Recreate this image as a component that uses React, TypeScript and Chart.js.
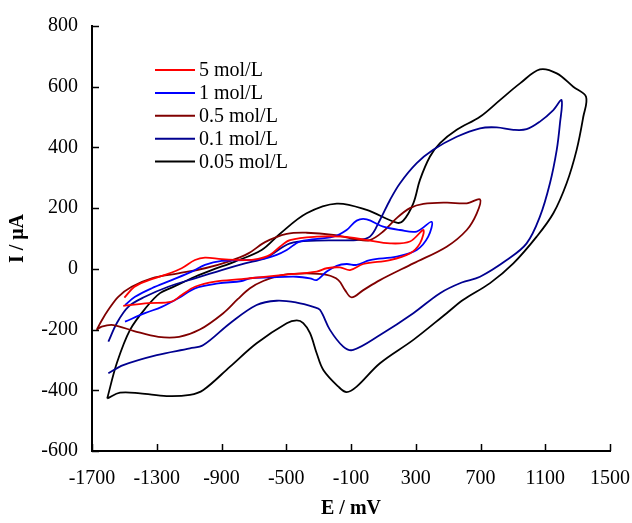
import React, { useEffect, useRef } from "react";
import { Chart, registerables } from "chart.js";

Chart.register(...registerables);

const seriesLabels = ["5 mol/L", "1 mol/L", "0.5 mol/L", "0.1 mol/L", "0.05 mol/L"];
const seriesColors = ["#ff0000", "#0000ff", "#800000", "#000090", "#000000"];

const xTickValues = [-1700, -1300, -900, -500, -100, 300, 700, 1100, 1500];
const yTickValues = [-600, -400, -200, 0, 200, 400, 600, 800];

// 5 mol/L
const e5 = [-1500, -1440, -1373, -1249, -1146, -1064, -1002, -899, -755, -680, -600, -539, -477, -312, -148, -3, 141, 264, 347, 326, 264, 141, -24, -106, -168, -250, -312, -518, -724, -775, -940, -1064, -1146, -1208, -1352, -1507];
const i5 = [-95, -60, -42, -20, 2, 29, 37, 32, 29, 32, 46, 73, 95, 106, 106, 95, 84, 90, 128, 84, 51, 29, 16, -4, 5, 2, -9, -20, -31, -34, -42, -59, -86, -108, -113, -122];

// 1 mol/L
const e1 = [-1496, -1434, -1331, -1208, -1084, -1002, -899, -755, -652, -559, -497, -415, -209, -127, -65, -3, 99, 203, 306, 398, 377, 306, 182, 17, -65, -127, -188, -250, -312, -353, -436, -600, -724, -775, -920, -1064, -1167, -1269, -1373, -1496];
const i1 = [-119, -92, -64, -37, -9, 13, 26, 29, 32, 46, 62, 90, 106, 128, 159, 163, 139, 128, 123, 155, 106, 62, 40, 29, 13, 16, 10, -9, -37, -31, -26, -28, -31, -40, -48, -64, -97, -125, -146, -174];

// 0.5 mol/L
const e05 = [-1671, -1640, -1599, -1538, -1455, -1331, -1167, -1002, -858, -734, -631, -497, -374, -209, -65, 17, 99, 182, 264, 347, 491, 615, 697, 677, 615, 491, 285, 79, -24, -96, -137, -178, -250, -374, -518, -642, -724, -800, -889, -1034, -1162, -1290, -1440, -1568, -1640, -1671];
const i05 = [-201, -170, -135, -92, -59, -31, -15, 2, 24, 51, 88, 115, 119, 112, 97, 95, 123, 167, 200, 214, 218, 216, 229, 183, 128, 73, 18, -37, -70, -94, -70, -37, -20, -15, -20, -40, -64, -100, -146, -200, -224, -224, -205, -185, -190, -201];

// 0.1 mol/L
const e01 = [-1599, -1547, -1476, -1373, -1229, -1064, -899, -755, -631, -477, -312, -65, 17, 79, 141, 203, 306, 408, 553, 697, 800, 903, 985, 1067, 1150, 1201, 1191, 1171, 1129, 1067, 985, 862, 697, 584, 450, 285, 79, -86, -148, -230, -292, -333, -435, -559, -683, -847, -1012, -1095, -1300, -1507, -1599];
const i01 = [-240, -179, -125, -92, -59, -31, -4, 18, 35, 84, 93, 95, 106, 161, 227, 282, 348, 392, 435, 463, 466, 458, 460, 485, 523, 556, 480, 392, 282, 172, 84, 29, -26, -45, -80, -146, -218, -267, -256, -201, -135, -125, -111, -105, -119, -179, -251, -262, -284, -317, -344];

// 0.05 mol/L
const e005 = [-1606, -1547, -1465, -1362, -1280, -1208, -1064, -961, -817, -652, -540, -374, -188, -3, 182, 223, 285, 326, 388, 450, 553, 697, 820, 944, 1067, 1171, 1273, 1352, 1335, 1294, 1232, 1150, 1047, 903, 759, 594, 491, 285, 79, -65, -127, -178, -271, -312, -353, -395, -435, -497, -683, -847, -1012, -1095, -1239, -1403, -1527, -1606];
const i005 = [-427, -311, -201, -125, -80, -62, -26, -4, 24, 62, 115, 183, 215, 194, 152, 159, 216, 293, 370, 414, 458, 501, 556, 611, 657, 644, 600, 567, 501, 392, 282, 183, 106, 18, -47, -102, -146, -234, -311, -388, -406, -388, -333, -278, -212, -179, -170, -179, -245, -322, -399, -415, -419, -410, -408, -427];

const seriesE = [e5, e1, e05, e01, e005];
const seriesI = [i5, i1, i05, i01, i005];

const FONT = "'Liberation Serif', 'Times New Roman', serif";

const inwardTicks = {
  id: "inwardTicks",
  afterDraw(chart: any) {
    const ctx = chart.ctx;
    const xs = chart.scales.x;
    const ys = chart.scales.y;
    const area = chart.chartArea;
    ctx.save();
    ctx.strokeStyle = "#000";
    ctx.lineWidth = 1.5;
    ctx.beginPath();
    for (const v of xTickValues) {
      const px = Math.round(xs.getPixelForValue(v)) + 0.5;
      ctx.moveTo(px, area.bottom);
      ctx.lineTo(px, area.bottom - 7);
    }
    for (const v of yTickValues) {
      const py = Math.round(ys.getPixelForValue(v)) + 0.5;
      ctx.moveTo(area.left, py);
      ctx.lineTo(area.left + 7, py);
    }
    ctx.stroke();
    ctx.restore();
  },
};

const innerLegend = {
  id: "innerLegend",
  afterDraw(chart: any) {
    const ctx = chart.ctx;
    ctx.save();
    ctx.font = `20px ${FONT}`;
    ctx.textBaseline = "middle";
    ctx.textAlign = "left";
    chart.data.datasets.forEach((ds: any, i: number) => {
      const y = 70 + i * 22.9;
      ctx.strokeStyle = ds.borderColor;
      ctx.lineWidth = 2;
      ctx.beginPath();
      ctx.moveTo(155, y);
      ctx.lineTo(195, y);
      ctx.stroke();
      ctx.fillStyle = "#000";
      ctx.fillText(ds.label, 199, y + 1);
    });
    ctx.restore();
  },
};

export default function App() {
  const ref = useRef<HTMLCanvasElement>(null);
  useEffect(() => {
    document.body.style.margin = "0";
    const canvas = ref.current;
    if (!canvas) return;
    Chart.defaults.color = "#000";
    const chart = new Chart(canvas, {
      type: "scatter",
      data: {
        datasets: seriesLabels.map((label, k) => ({
          label,
          data: seriesE[k].map((e, j) => ({ x: e, y: seriesI[k][j] })),
          showLine: true,
          borderColor: seriesColors[k],
          backgroundColor: seriesColors[k],
          borderWidth: 1.8,
          pointRadius: 0,
          tension: 0.35,
          fill: false,
        })),
      },
      options: {
        animation: false,
        responsive: false,
        devicePixelRatio: 1,
        layout: { padding: { left: 6, top: 26, right: 22, bottom: 2 } },
        plugins: { legend: { display: false }, tooltip: { enabled: false } },
        scales: {
          x: {
            type: "linear",
            min: -1700,
            max: 1500,
            afterBuildTicks: (s: any) => {
              s.ticks = xTickValues.map((v) => ({ value: v }));
            },
            afterFit: (s: any) => {
              s.height = 70;
              s.paddingLeft = 0;
              s.paddingRight = 0;
            },
            ticks: { font: { family: FONT, size: 20 }, color: "#000", padding: 16, maxRotation: 0, callback: (v: any) => String(v) },
            grid: { display: false, drawTicks: false },
            border: { display: true, color: "#000", width: 2 },
            title: { display: true, text: "E / mV", font: { family: FONT, size: 20, weight: "bold" }, color: "#000", padding: 0 },
          },
          y: {
            type: "linear",
            min: -600,
            max: 800,
            afterBuildTicks: (s: any) => {
              s.ticks = yTickValues.map((v) => ({ value: v }));
            },
            afterFit: (s: any) => {
              s.width = 86;
              s.paddingTop = 0;
              s.paddingBottom = 0;
            },
            ticks: { font: { family: FONT, size: 20 }, color: "#000", padding: 14, callback: (v: any) => String(v) },
            grid: { display: false, drawTicks: false },
            border: { display: true, color: "#000", width: 2 },
            title: { display: true, text: "I / μA", font: { family: FONT, size: 20, weight: "bold" }, color: "#000", padding: 0 },
          },
        },
      },
      plugins: [inwardTicks, innerLegend],
    } as any);
    return () => chart.destroy();
  }, []);
  return <canvas ref={ref} width={632} height={523} style={{ display: "block" }} />;
}
